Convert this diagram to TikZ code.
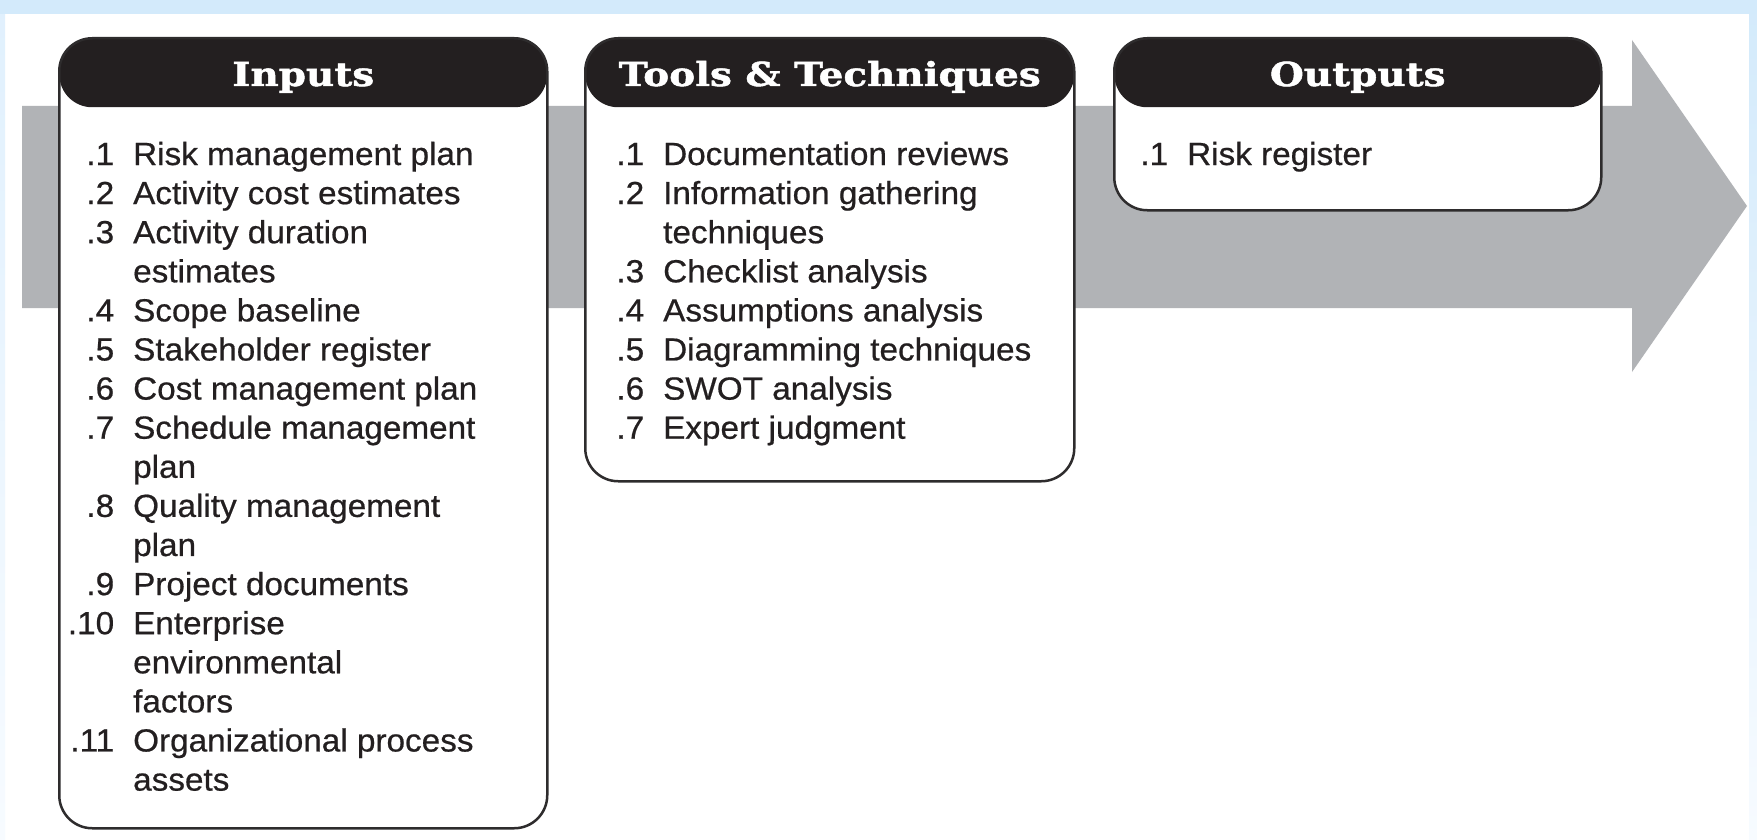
\documentclass[tikz,border=0pt]{standalone}
\usepackage{fontspec}
\setmainfont{Liberation Sans}
\newfontfamily\bodyfont{Liberation Sans}[FakeStretch=1.04,FakeBold=0.6]
\newfontfamily\headfont{DejaVu Serif}[FakeStretch=1.18,FakeBold=1.5]
\definecolor{bandgray}{HTML}{B1B3B6}
\definecolor{hdrblack}{HTML}{231F20}
\definecolor{txt}{HTML}{231F20}
\definecolor{boxline}{HTML}{2E2C2D}
\definecolor{frametop}{HTML}{D3EAFB}
\definecolor{frameside}{HTML}{E0F0FD}
\definecolor{framefade}{HTML}{F7FBFF}
\newcommand\itemnum[1]{\llap{#1\hspace{19pt}}}
\tikzset{
  procbox/.style={draw=boxline, line width=2.5pt, fill=white, rounded corners=33pt,
    inner sep=0pt, anchor=north west,
    path picture={\fill[hdrblack] (path picture bounding box.north west) rectangle
      ([yshift=-69pt]path picture bounding box.north east);}},
  hdrtext/.style={font=\headfont\bfseries\fontsize{33}{36}\selectfont, text=white,
    inner sep=0pt, anchor=base},
  itemlist/.style={font=\bodyfont\fontsize{32}{39.1}\selectfont, text=txt,
    inner sep=0pt, anchor=base west}
}
\begin{document}
\begin{tikzpicture}[x=1pt,y=-1pt]
\useasboundingbox (0,0) rectangle (1757,840);
% light blue frame
\fill[white] (0,0) rectangle (1757,840);
\shade[top color=frameside, bottom color=framefade] (0,0) rectangle (5,840);
\shade[top color=frametop, bottom color=framefade] (1749,0) rectangle (1757,840);
\fill[frametop] (0,0) rectangle (1757,14);
% gray process arrow
\fill[bandgray] (22,106) -- (1632,106) -- (1632,40) -- (1747,206) -- (1632,372)
  -- (1632,308) -- (22,308) -- cycle;
% boxes
\node[procbox, minimum width=488pt, minimum height=790pt] (inbox) at (58,37) {};
\node[procbox, minimum width=489pt, minimum height=443pt] (toolbox) at (584,37) {};
\node[procbox, minimum width=487pt, minimum height=172pt] (outbox) at (1113,37) {};
% headers
\node[hdrtext] (inhdr) at (inbox.north |- 0,86) {Inputs};
\node[hdrtext] (toolhdr) at (toolbox.north |- 0,86) {Tools \& Techniques};
\node[hdrtext] (outhdr) at (outbox.north |- 0,86) {Outputs};
% lists
\node[itemlist] (inlist) at (133,165) {\begin{tabular}[t]{@{}l@{}}
\itemnum{.1}Risk management plan\\
\itemnum{.2}Activity cost estimates\\
\itemnum{.3}Activity duration\\
estimates\\
\itemnum{.4}Scope baseline\\
\itemnum{.5}Stakeholder register\\
\itemnum{.6}Cost management plan\\
\itemnum{.7}Schedule management\\
plan\\
\itemnum{.8}Quality management\\
plan\\
\itemnum{.9}Project documents\\
\itemnum{.10}Enterprise\\
environmental\\
factors\\
\itemnum{.11}Organizational process\\
assets
\end{tabular}};
\node[itemlist] (toollist) at (663,165) {\begin{tabular}[t]{@{}l@{}}
\itemnum{.1}Documentation reviews\\
\itemnum{.2}Information gathering\\
techniques\\
\itemnum{.3}Checklist analysis\\
\itemnum{.4}Assumptions analysis\\
\itemnum{.5}Diagramming techniques\\
\itemnum{.6}SWOT analysis\\
\itemnum{.7}Expert judgment
\end{tabular}};
\node[itemlist] (outlist) at (1187,165) {\begin{tabular}[t]{@{}l@{}}
\itemnum{.1}Risk register
\end{tabular}};
\end{tikzpicture}
\end{document}
